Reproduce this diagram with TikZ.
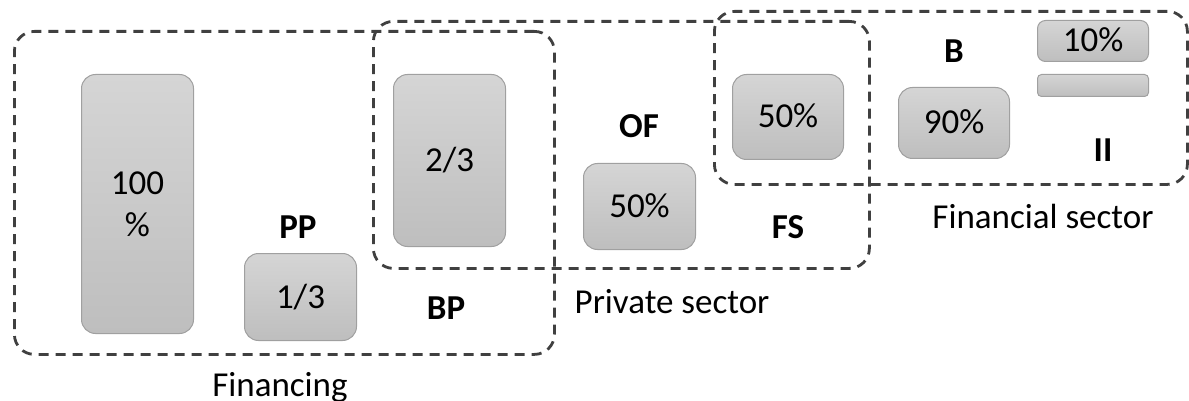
\documentclass[tikz,border=0pt]{standalone}
\usepackage{fontspec}
\setmainfont{Carlito}
\definecolor{boxtop}{RGB}{213,213,213}
\definecolor{boxbot}{RGB}{190,190,190}
\definecolor{boxline}{RGB}{160,160,160}
\definecolor{dashcol}{RGB}{64,64,64}
\tikzset{
  x=1pt, y=-1pt,
  txt/.style={font=\fontsize{35}{42}\selectfont, inner sep=0pt},
  bar/.style={txt, draw=boxline, line width=1pt, rounded corners=14pt,
    top color=boxtop, bottom color=boxbot, anchor=north west,
    text height=22pt, text depth=0pt},
  region/.style={draw=dashcol, line width=2.8pt, dash pattern=on 10pt off 7pt,
    rounded corners=20pt, anchor=north west, inner sep=0pt},
  lab/.style={txt, anchor=base},
  blab/.style={txt, anchor=base, font=\fontsize{35}{42}\selectfont\bfseries},
}
\begin{document}
\begin{tikzpicture}
\useasboundingbox (0,0) rectangle (1189,401);
% boxes
\node[bar, minimum width=112pt, minimum height=259pt, text height=, text depth=, align=center] (b100) at (81,74) {100\\\%};
\node[bar, minimum width=112pt, minimum height=87pt] (b13) at (244,253) {1/3};
\node[bar, minimum width=112pt, minimum height=172pt] (b23) at (393,74) {2/3};
\node[bar, minimum width=112pt, minimum height=86pt] (bof) at (583,163) {50\%};
\node[bar, minimum width=111pt, minimum height=85pt] (bfs) at (732,74) {50\%};
\node[bar, minimum width=111pt, minimum height=71pt] (bb) at (898,87) {90\%};
\node[bar, minimum width=111pt, minimum height=41pt, rounded corners=8pt] (b10) at (1037,20) {10\%};
\node[bar, minimum width=111pt, minimum height=14pt, rounded corners=4pt] (bii) at (1037,74) {};
% regions
\node[region, minimum width=540pt, minimum height=323pt] (rfin) at (13,30) {};
\node[region, minimum width=496pt, minimum height=247pt] (rpriv) at (372,20) {};
\node[region, minimum width=473pt, minimum height=173pt] (rfsec) at (713,10) {};
% labels
\node[blab] (lpp) at (298,238) {PP};
\node[blab] (lbp) at (446,319) {BP};
\node[blab] (lof) at (639,138) {OF};
\node[blab] (lfs) at (788,238) {FS};
\node[blab] (lb) at (954,63) {B};
\node[blab] (lii) at (1103,161) {II};
\node[lab] (lfin) at (280,396) {Financing};
\node[lab] (lpriv) at (672,313) {Private sector};
\node[lab] (lfsec) at (1043,228) {Financial sector};
\end{tikzpicture}
\end{document}
